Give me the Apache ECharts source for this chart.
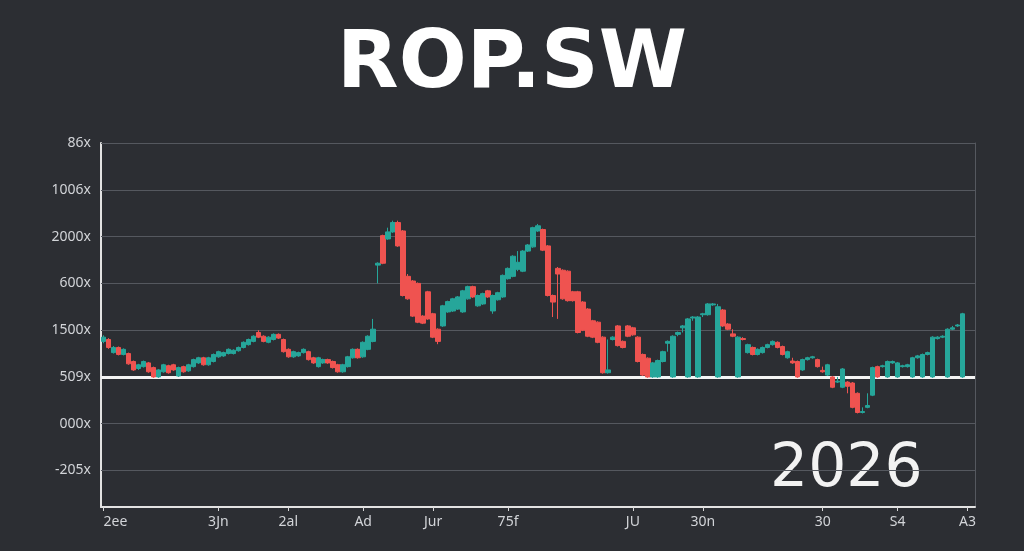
<!DOCTYPE html>
<html>
<head>
<meta charset="utf-8">
<script src="https://cdn.jsdelivr.net/npm/echarts@6/dist/echarts.min.js"></script>
<style>
html,body{margin:0;padding:0;background:#2c2e33;}
#c{width:1024px;height:551px;}
</style>
</head>
<body>
<div id="c"></div>
<script>
const titleText = 'ROP.SW';
const yearText = '2026';
const yTickValues = [100, 200, 300, 400, 500, 600, 700, 800];
const yTickLabels = ['-205x', '000x', '509x', '1500x', '600x', '2000x', '1006x', '86x'];
const baseLevel = 300;
const xTickLabels = ['2ee', '3Jn', '2al', 'Ad', 'Jur', '75f', 'JU', '30n', '30', 'S4', 'A3'];
const xTickAt = [0, 23, 37, 52, 66, 81, 106, 120, 144, 159, 173];
const categoryCount = 175;
// [open, close, low, high]
const candles = [
[376,385,372,389],[380,363,360,383],[352,363,350,366],[363,348,346,365],[348,359,346,361],
[350,328,326,352],[333,315,313,335],[318,326,315,328],[322,333,320,335],[330,311,309,332],
[320,300,298,322],[300,315,298,317],[311,326,309,328],[324,309,307,326],[326,315,313,328],
[302,320,300,322],[322,311,309,324],[313,326,311,328],[322,337,320,339],[330,341,328,343],
[341,326,324,343],[326,341,324,343],[333,348,331,350],[343,354,341,356],[345,352,343,354],
[350,359,348,361],[350,357,348,359],[356,363,354,365],[363,374,361,376],[369,380,367,382],
[376,387,374,389],[395,385,383,400],[387,376,374,389],[374,385,372,387],[380,391,378,393],
[391,383,381,393],[380,354,352,382],[359,343,341,361],[343,354,341,356],[345,352,343,354],
[352,359,350,361],[354,337,335,356],[341,330,328,343],[322,341,320,343],[330,337,328,339],
[337,330,328,339],[333,320,318,335],[326,311,309,328],[311,326,309,328],[322,343,320,345],
[341,359,339,361],[359,341,339,361],[343,374,341,376],[359,387,357,389],[376,402,374,424],
[539,543,500,545],[602,543,541,604],[595,610,593,619],[610,630,608,634],[630,580,578,634],
[612,474,472,614],[515,467,465,520],[505,430,428,507],[500,417,415,502],[430,415,413,432],
[482,424,422,484],[435,385,383,437],[402,376,370,404],[409,452,407,454],[439,461,437,463],
[441,467,439,469],[445,471,443,473],[439,484,437,486],[467,493,465,495],[493,471,469,495],
[452,474,450,476],[456,478,454,480],[484,471,469,486],[441,474,435,476],[465,480,463,482],
[471,517,469,519],[510,532,508,534],[515,558,513,560],[530,545,526,569],[526,569,524,571],
[569,582,567,584],[578,619,576,621],[612,623,610,627],[615,571,569,617],[580,474,472,582],
[474,460,428,476],[532,520,424,535],[528,467,465,530],[526,463,461,528],[482,463,461,484],
[482,395,393,484],[460,400,398,462],[445,387,385,447],[420,385,383,422],[417,374,372,419],
[385,309,307,387],[309,315,307,380],[380,385,378,387],[409,367,365,411],[376,363,361,378],
[409,387,385,411],[405,390,388,407],[385,333,331,387],[348,304,302,350],[340,300,298,342],
[300,330,298,332],[300,335,298,337],[333,354,331,356],[372,376,354,378],[300,387,298,389],
[391,395,387,397],[405,409,395,411],[300,424,298,426],[426,428,420,430],[300,428,298,430],
[433,435,428,437],[433,456,431,458],[454,456,452,458],[300,450,298,456],[443,409,407,445],
[413,402,400,415],[392,387,385,402],[300,385,298,387],[382,380,378,385],[352,369,350,371],
[363,348,346,365],[348,359,346,361],[352,363,350,365],[363,369,361,371],[369,376,367,378],
[374,363,361,376],[365,348,346,367],[341,354,339,356],[334,330,328,341],[333,300,298,335],
[315,337,313,339],[337,341,335,343],[341,343,339,345],[337,322,320,339],[314,311,309,322],
[304,326,302,328],[300,278,276,302],[289,291,287,300],[278,317,276,319],[289,280,265,291],
[287,235,233,289],[265,224,222,267],[224,226,222,235],[235,239,233,265],[261,320,259,322],
[322,300,298,324],[322,324,320,326],[300,333,298,335],[330,333,328,335],[300,330,298,332],
[322,324,320,326],[322,326,320,328],[300,341,298,343],[341,345,339,347],[300,348,298,350],
[348,352,346,354],[300,385,298,387],[382,385,380,387],[385,387,383,389],[300,402,298,404],
[402,405,400,409],[409,411,407,413],[300,435,298,437]
];

const categories = Array.from({length: categoryCount}, (_, i) => String(i));
const tickMap = {};
xTickAt.forEach((idx, k) => { tickMap[idx] = xTickLabels[k]; });
const yLabelMap = {};
yTickValues.forEach((v, k) => { yLabelMap[v] = yTickLabels[k]; });

const GREEN = '#26a69a', RED = '#ef5350';
const labelFont = 'Noto Sans';

const gridLines = yTickValues.filter(v => v !== baseLevel).map(v => ({
  yAxis: v, lineStyle: {color: '#55585f', width: 1, type: 'solid'}
}));
gridLines.push({yAxis: baseLevel, lineStyle: {color: '#f4f4f4', width: 3, type: 'solid'}});

const chart = echarts.init(document.getElementById('c'), null, {renderer: 'canvas'});
chart.setOption({
  animation: false,
  backgroundColor: '#2c2e33',
  graphic: [
    {type: 'text', left: 'center', top: 26, style: {text: titleText, fill: '#ffffff', font: 'bold 80px "DejaVu Sans"'}},
    {type: 'text', left: 770, top: 440, style: {text: yearText, fill: '#f2f2f2', font: '60px "DejaVu Sans"'}}
  ],
  grid: {left: 101, right: 49, top: 143, bottom: 44, containLabel: false},
  xAxis: {
    type: 'category',
    data: categories,
    boundaryGap: true,
    axisLine: {show: true, lineStyle: {color: '#e2e2e2', width: 2}},
    axisTick: {show: true, alignWithLabel: true, length: 4, interval: (i) => tickMap[i] !== undefined, lineStyle: {color: '#d8d8d8'}},
    axisLabel: {
      interval: (i) => tickMap[i] !== undefined,
      formatter: (v, i) => tickMap[i] !== undefined ? tickMap[i] : '',
      color: '#d2d4d8', fontSize: 14, fontFamily: labelFont, margin: 8, alignMinLabel: 'left'
    },
    splitLine: {show: false}
  },
  yAxis: [{
    type: 'value', min: 22, max: 800,
    axisLine: {show: true, lineStyle: {color: '#e2e2e2', width: 2}},
    axisTick: {show: false},
    splitLine: {show: false},
    axisLabel: {
      customValues: yTickValues,
      formatter: (v) => yLabelMap[v] !== undefined ? yLabelMap[v] : '',
      color: '#d2d4d8', fontSize: 14, fontFamily: labelFont, margin: 10
    }
  }, {
    type: 'value', min: 22, max: 800, position: 'right',
    axisLine: {show: true, lineStyle: {color: '#55585f', width: 1}},
    axisTick: {show: false}, axisLabel: {show: false}, splitLine: {show: false}
  }],
  series: [{
    type: 'candlestick',
    data: candles,
    barWidth: 5,
    itemStyle: {color: GREEN, color0: RED, borderColor: GREEN, borderColor0: RED, borderWidth: 1},
    markLine: {
      silent: true, symbol: ['none', 'none'], label: {show: false},
      data: gridLines, z: 1
    }
  }]
});
</script>
</body>
</html>
